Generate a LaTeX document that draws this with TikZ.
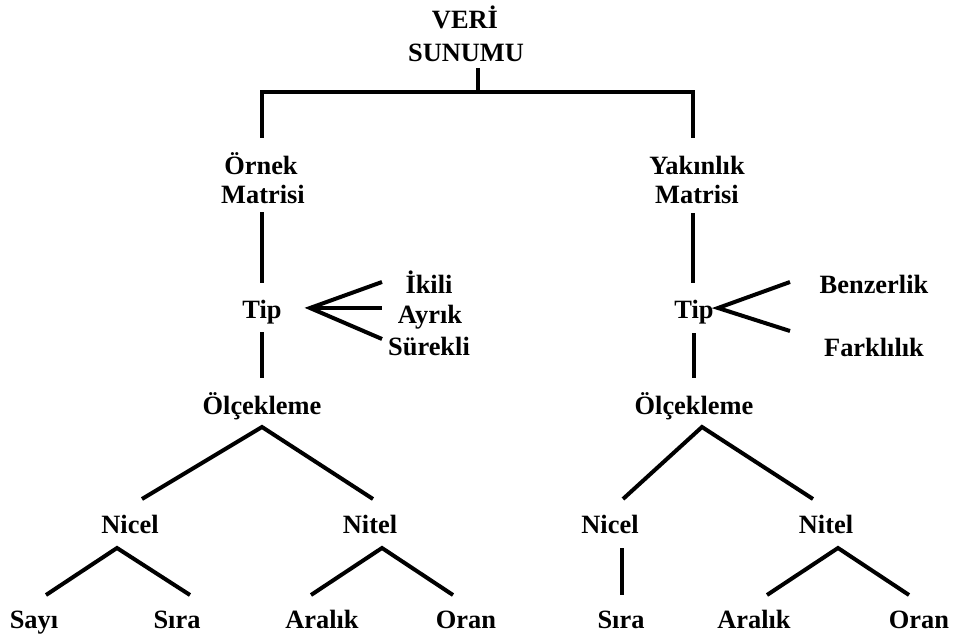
\documentclass[tikz,border=0pt]{standalone}
\usepackage{fontspec}
\setmainfont{Liberation Serif}
\newcommand\lblfont{\fontsize{19.8}{24}\selectfont\bfseries}
\begin{document}
\begin{tikzpicture}[x=0.75pt,y=-0.75pt,
  lbl/.style={font=\lblfont, inner sep=0pt, anchor=base},
  conn/.style={line width=3pt, line join=miter}]
\fill[white] (0,0) rectangle (954,635);
\useasboundingbox (0,0) rectangle (954,635);

% labels, placed by their baselines
\node[lbl] (veri)    at (465,29)  {VERİ};
\node[lbl] (sunumu)  at (466,62)  {SUNUMU};
\node[lbl] (ornek)   at (261,175) {Örnek};
\node[lbl] (ornekm)  at (263,203) {Matrisi};
\node[lbl] (yakin)   at (697,175) {Yakınlık};
\node[lbl] (yakinm)  at (697,203) {Matrisi};
\node[lbl] (tipL)    at (262,318) {Tip};
\node[lbl] (tipR)    at (694,318) {Tip};
\node[lbl] (ikili)   at (429,293) {İkili};
\node[lbl] (ayrik)   at (430,323) {Ayrık};
\node[lbl] (surekli) at (429,355) {Sürekli};
\node[lbl] (benzer)  at (874,293) {Benzerlik};
\node[lbl] (fark)    at (874,356) {Farklılık};
\node[lbl] (olcL)    at (262,414) {Ölçekleme};
\node[lbl] (olcR)    at (694,414) {Ölçekleme};
\node[lbl] (nicelL)  at (130,533) {Nicel};
\node[lbl] (nitelL)  at (370,533) {Nitel};
\node[lbl] (nicelR)  at (610,533) {Nicel};
\node[lbl] (nitelR)  at (826,533) {Nitel};
\node[lbl] (sayi)    at (34,628)  {Sayı};
\node[lbl] (siraL)   at (177,628) {Sıra};
\node[lbl] (aralikL) at (322,628) {Aralık};
\node[lbl] (oranL)   at (466,628) {Oran};
\node[lbl] (siraR)   at (621,628) {Sıra};
\node[lbl] (aralikR) at (754,628) {Aralık};
\node[lbl] (oranR)   at (919,628) {Oran};

% root split into the two matrix types
\draw[conn] ([shift={(12,6)}]sunumu.base) -- ([shift={(12,30)}]sunumu.base);
\draw[conn] ([shift={(1,-37)}]ornek.base) |- ([shift={(-4,-83)}]yakin.base)
            -- ([shift={(-4,-37)}]yakin.base);

% vertical spines
\draw[conn] ([shift={(-1,9)}]ornekm.base) -- ([shift={(0,-35)}]tipL.base);
\draw[conn] ([shift={(-4,10)}]yakinm.base) -- ([shift={(-1,-35)}]tipR.base);
\draw[conn] ([shift={(0,14)}]tipL.base) -- ([shift={(0,-36)}]olcL.base);
\draw[conn] ([shift={(0,15)}]tipR.base) -- ([shift={(0,-36)}]olcR.base);

% type fans
\draw[conn] ([shift={(-47,-11)}]ikili.base) -- ([shift={(48,-10)}]tipL.base)
            -- ([shift={(-47,-16)}]surekli.base);
\draw[conn] ([shift={(48,-10)}]tipL.base) -- ([shift={(-48,-15)}]ayrik.base);
\draw[conn] ([shift={(-84,-11)}]benzer.base) -- ([shift={(24,-10)}]tipR.base)
            -- ([shift={(-84,-25)}]fark.base);

% scaling branches
\draw[conn] ([shift={(12,-34)}]nicelL.base) -- ([shift={(0,13)}]olcL.base)
            -- ([shift={(3,-34)}]nitelL.base);
\draw[conn] ([shift={(13,-34)}]nicelR.base) -- ([shift={(8,13)}]olcR.base)
            -- ([shift={(-13,-34)}]nitelR.base);

% leaves
\draw[conn] ([shift={(12,-33)}]sayi.base) -- ([shift={(-13,15)}]nicelL.base)
            -- ([shift={(13,-33)}]siraL.base);
\draw[conn] ([shift={(-11,-33)}]aralikL.base) -- ([shift={(12,15)}]nitelL.base)
            -- ([shift={(-13,-33)}]oranL.base);
\draw[conn] ([shift={(12,15)}]nicelR.base) -- ([shift={(1,-33)}]siraR.base);
\draw[conn] ([shift={(13,-33)}]aralikR.base) -- ([shift={(12,15)}]nitelR.base)
            -- ([shift={(-10,-33)}]oranR.base);
\end{tikzpicture}
\end{document}
